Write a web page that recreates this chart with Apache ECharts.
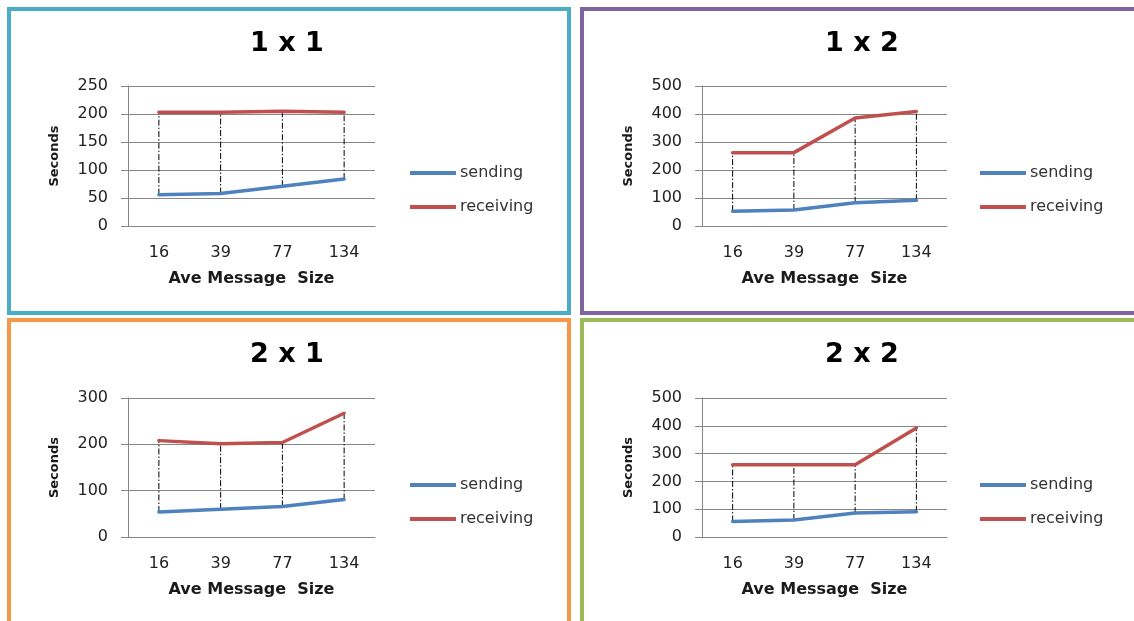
<!DOCTYPE html>
<html>
<head>
<meta charset="utf-8">
<script src="https://cdn.jsdelivr.net/npm/echarts@6/dist/echarts.min.js"></script>
<style>
  html, body { margin: 0; padding: 0; background: #ffffff; }
  #chart { width: 1134px; height: 621px; }
</style>
</head>
<body>
<div id="chart"></div>
<script>
// Average message size categories (x axis)
const categories = ['16', '39', '77', '134'];

// Timing in seconds for each configuration
const sending11   = [56, 58, 71, 84];
const receiving11 = [203, 203, 205, 203];

const sending12   = [53, 57, 83, 92];
const receiving12 = [262, 262, 386, 409];

const sending21   = [54, 60, 66, 81];
const receiving21 = [208, 201, 204, 267];

const sending22   = [56, 61, 86, 91];
const receiving22 = [260, 260, 260, 392];

const panelTitles = ['1 x 1', '1 x 2', '2 x 1', '2 x 2'];
const yMax        = [250, 500, 300, 500];
const yStep       = [50, 100, 100, 100];

const seriesNames = ['sending', 'receiving'];
const FONT = 'DejaVu Sans';
const BLUE = '#4f81bd';
const RED = '#c0504d';
const GRIDLINE = '#868686';

const panels = [
  { send: sending11, recv: receiving11, grid: { left: 128, top: 86, width: 247, height: 140 }, legend: { left: 405, top: 160 }, title: [287, 44], frame: { x: 9, y: 9, w: 560, h: 304, c: '#4bacc6' } },
  { send: sending12, recv: receiving12, grid: { left: 702, top: 86, width: 245, height: 140 }, legend: { left: 975, top: 160 }, title: [862, 44], frame: { x: 582, y: 9, w: 600, h: 304, c: '#8064a2' } },
  { send: sending21, recv: receiving21, grid: { left: 128, top: 398, width: 247, height: 139 }, legend: { left: 405, top: 472 }, title: [287, 355], frame: { x: 9, y: 320, w: 560, h: 320, c: '#f79646' } },
  { send: sending22, recv: receiving22, grid: { left: 702, top: 398, width: 245, height: 139 }, legend: { left: 975, top: 472 }, title: [862, 355], frame: { x: 582, y: 320, w: 600, h: 320, c: '#9bbb59' } }
];

const grid = [], xAxis = [], yAxis = [], legend = [], series = [], graphic = [];

panels.forEach((p, i) => {
  grid.push(Object.assign({ containLabel: false }, p.grid));

  xAxis.push({
    type: 'category',
    gridIndex: i,
    data: categories,
    boundaryGap: true,
    name: 'Ave Message  Size',
    nameLocation: 'middle',
    nameGap: 45,
    nameTextStyle: { fontFamily: FONT, fontWeight: 'bold', fontSize: 16, color: '#1a1a1a' },
    axisLine: { show: true, lineStyle: { color: GRIDLINE, width: 1 } },
    axisTick: { show: false },
    axisLabel: { fontFamily: FONT, fontSize: 16, color: '#222', margin: 19 },
    splitLine: { show: false }
  });

  yAxis.push({
    type: 'value',
    gridIndex: i,
    min: 0,
    max: yMax[i],
    interval: yStep[i],
    name: 'Seconds',
    nameLocation: 'middle',
    nameGap: 67,
    nameRotate: 90,
    nameTextStyle: { fontFamily: FONT, fontWeight: 'bold', fontSize: 13, color: '#1a1a1a' },
    axisLine: { show: true, lineStyle: { color: GRIDLINE, width: 1 } },
    axisTick: { show: true, length: 7, lineStyle: { color: GRIDLINE } },
    axisLabel: { fontFamily: FONT, fontSize: 16, color: '#222', margin: 20 },
    splitLine: { show: true, lineStyle: { color: GRIDLINE, width: 1 } }
  });

  legend.push({
    orient: 'vertical',
    left: p.legend.left,
    top: p.legend.top,
    data: seriesNames,
    icon: 'rect',
    itemWidth: 46,
    itemHeight: 4,
    itemGap: 18,
    selectedMode: false,
    textStyle: { fontFamily: FONT, fontSize: 16, color: '#333', padding: [0, 0, 0, -1] }
  });

  // High-low drop lines between the two series at each category
  series.push({
    type: 'custom',
    xAxisIndex: i,
    yAxisIndex: i,
    z: 1,
    silent: true,
    data: categories.map((c, k) => [k, Math.min(p.send[k], p.recv[k]), Math.max(p.send[k], p.recv[k])]),
    encode: { x: 0, y: [1, 2] },
    renderItem: (params, api) => {
      const lo = api.coord([api.value(0), api.value(1)]);
      const hi = api.coord([api.value(0), api.value(2)]);
      return {
        type: 'line',
        shape: { x1: lo[0], y1: lo[1], x2: hi[0], y2: hi[1] },
        style: { stroke: '#000', lineWidth: 1, lineDash: [6, 2, 1.5, 2] }
      };
    }
  });

  series.push({
    name: 'sending',
    type: 'line',
    xAxisIndex: i,
    yAxisIndex: i,
    data: p.send,
    symbol: 'none',
    z: 3,
    color: BLUE,
    lineStyle: { color: BLUE, width: 3.5, cap: 'round', join: 'round' }
  });
  series.push({
    name: 'receiving',
    type: 'line',
    xAxisIndex: i,
    yAxisIndex: i,
    data: p.recv,
    symbol: 'none',
    z: 3,
    color: RED,
    lineStyle: { color: RED, width: 3.5, cap: 'round', join: 'round' }
  });

  // Panel frame
  graphic.push({
    type: 'rect',
    shape: { x: p.frame.x, y: p.frame.y, width: p.frame.w, height: p.frame.h },
    style: { fill: 'none', stroke: p.frame.c, lineWidth: 4 },
    z: 0,
    silent: true
  });
  // Panel heading
  graphic.push({
    type: 'text',
    x: p.title[0],
    y: p.title[1],
    style: {
      text: panelTitles[i],
      font: 'bold 27px "DejaVu Sans"',
      fill: '#000',
      align: 'center',
      verticalAlign: 'middle'
    },
    z: 10,
    silent: true
  });
});

const chart = echarts.init(document.getElementById('chart'), null, { renderer: 'canvas' });
chart.setOption({
  backgroundColor: '#ffffff',
  animation: false,
  grid, xAxis, yAxis, legend, series, graphic
});
</script>
</body>
</html>
